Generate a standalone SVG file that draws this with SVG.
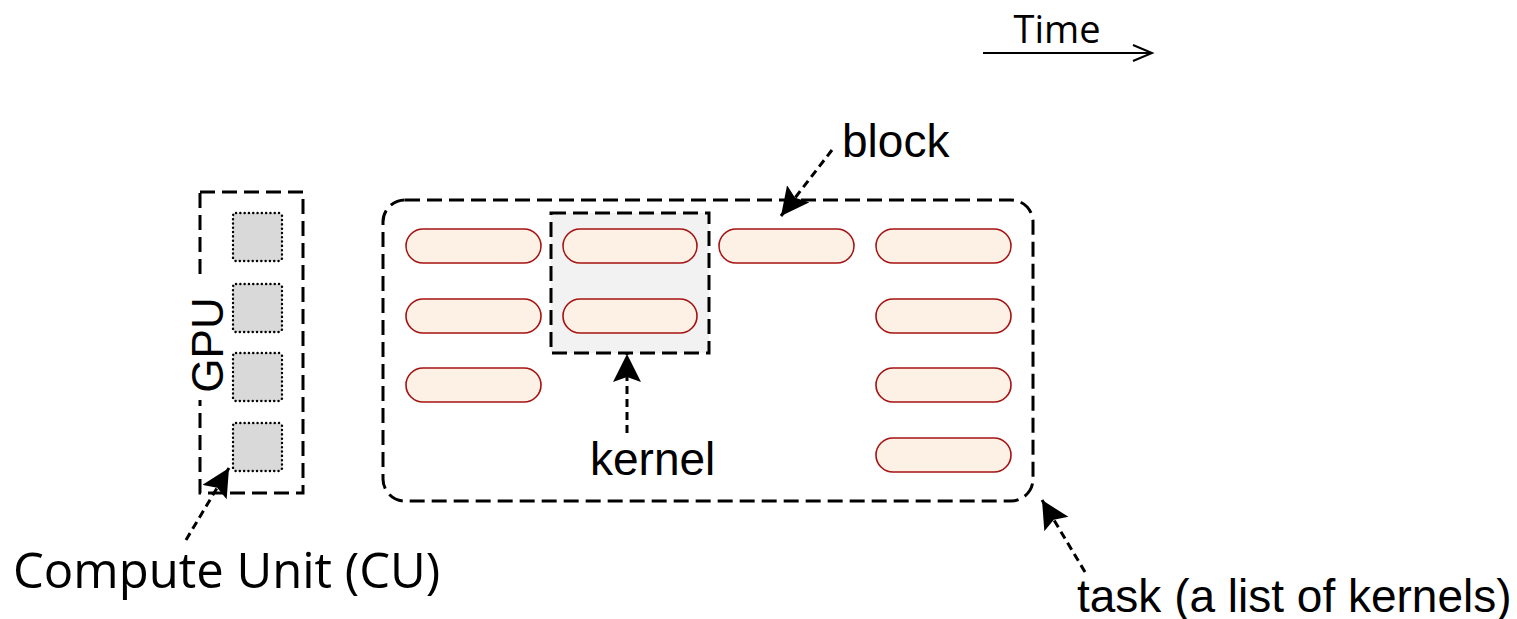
<svg xmlns="http://www.w3.org/2000/svg" width="1517" height="619" viewBox="0 0 1517 619">
<style>
.box{fill:none;stroke:#000;stroke-width:3;stroke-dasharray:15 7}
.cu{fill:#d9d9d9;stroke:#000;stroke-width:2.4;stroke-dasharray:0.1 4.2;stroke-linecap:round}
.k{fill:#fdf1e5;stroke:#a51212;stroke-width:1.6}
.lbl{font-family:"Liberation Sans",Arial,sans-serif;font-size:46px;fill:#000}
.lbl2{font-family:"Open Sans","Noto Sans",sans-serif;fill:#000}
.conn{fill:none;stroke:#000;stroke-width:3;stroke-dasharray:8 5}
</style>
<defs>
<marker id="ah" markerUnits="userSpaceOnUse" markerWidth="30" markerHeight="30" viewBox="0 0 30 30" refX="28" refY="14" orient="auto">
<path d="M0,0 L28,14 L0,28 L5,14 z" fill="#000"/>
</marker>
<marker id="open" markerUnits="userSpaceOnUse" markerWidth="24" markerHeight="24" viewBox="0 0 24 24" refX="21" refY="12" orient="auto">
<path d="M2,4 L21,12 L2,20" fill="none" stroke="#000" stroke-width="2"/>
</marker>
</defs>
<rect width="1517" height="619" fill="#fff"/>

<g id="gpu">
<rect class="box" x="200" y="192" width="103" height="301"/>
<rect x="192" y="280" width="18" height="120" fill="#fff"/>
<text class="lbl" x="223" y="345" text-anchor="middle" transform="rotate(-90 223 345)" style="font-size:44px">GPU</text>
</g>
<g id="cu1"><rect class="cu" x="233" y="213" width="49" height="48" rx="3"/></g>
<g id="cu2"><rect class="cu" x="233" y="284" width="49" height="48" rx="3"/></g>
<g id="cu3"><rect class="cu" x="233" y="353" width="49" height="48" rx="3"/></g>
<g id="cu4"><rect class="cu" x="233" y="423" width="49" height="48" rx="3"/></g>

<g id="task"><rect class="box" x="383" y="200" width="650" height="301" rx="22"/></g>
<g id="block"><rect x="551" y="213" width="158" height="140" fill="#f2f2f2" stroke="#000" stroke-width="3" stroke-dasharray="15 7"/></g>

<g id="kernels">
<rect class="k" x="406" y="229" width="135" height="34" rx="17"/>
<rect class="k" x="406" y="299" width="135" height="34" rx="17"/>
<rect class="k" x="406" y="368" width="135" height="34" rx="17"/>
<rect class="k" x="563" y="229" width="134" height="34" rx="17"/>
<rect class="k" x="563" y="299" width="134" height="34" rx="17"/>
<rect class="k" x="719" y="229" width="135" height="34" rx="17"/>
<rect class="k" x="876" y="229" width="135" height="34" rx="17"/>
<rect class="k" x="876" y="299" width="135" height="34" rx="17"/>
<rect class="k" x="876" y="368" width="135" height="34" rx="17"/>
<rect class="k" x="876" y="438" width="135" height="34" rx="17"/>
</g>

<g id="connectors">
<line class="conn" x1="627" y1="433" x2="627" y2="354" marker-end="url(#ah)"/>
<line class="conn" x1="832" y1="150" x2="781" y2="216" marker-end="url(#ah)"/>
<line class="conn" x1="1085" y1="572" x2="1042" y2="500" marker-end="url(#ah)"/>
<line class="conn" x1="186" y1="540" x2="229" y2="468" marker-end="url(#ah)"/>
<line x1="983" y1="53" x2="1152" y2="53" stroke="#000" stroke-width="2" marker-end="url(#open)"/>
</g>

<g id="labels">
<text class="lbl2" x="1057" y="43" text-anchor="middle" style="font-size:38px">Time</text>
<text class="lbl" x="842" y="157">block</text>
<text class="lbl" x="590" y="475">kernel</text>
<text class="lbl" x="1077" y="612">task (a list of kernels)</text>
<text class="lbl2" x="13" y="588" style="font-size:49px">Compute Unit (CU)</text>
</g>
</svg>
